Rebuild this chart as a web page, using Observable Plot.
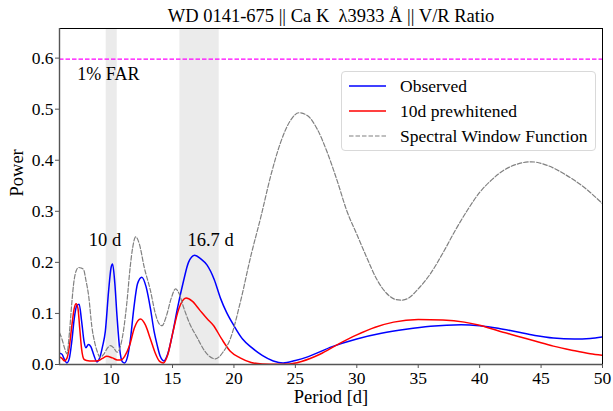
<!DOCTYPE html>
<html><head><meta charset="utf-8">
<script src="https://cdn.jsdelivr.net/npm/d3@7"></script>
<script src="https://cdn.jsdelivr.net/npm/@observablehq/plot@0.6"></script>
<style>
body{margin:0;background:#fff;}
#wrap{position:relative;width:613px;height:411px;font-family:"Liberation Serif","Times New Roman",serif;}
#legend{position:absolute;left:341px;top:71px;width:255px;height:80px;border:1px solid #d9d9d9;border-radius:4px;background:rgba(255,255,255,0.85);box-sizing:border-box;}
.row{position:absolute;left:6px;height:20px;display:flex;align-items:center;font-size:17.5px;color:#000;white-space:nowrap;}
.row svg{margin-right:14px;}
</style></head>
<body><div id="wrap"></div>
<script>
const titleText = "WD 0141-675 || Ca K  λ3933 Å || V/R Ratio";
const seriesNames = ["Observed", "10d prewhitened", "Spectral Window Function"];
const seriesColors = ["#0000ff", "#ff0000", "#808080"];

const obsPeriod = [5.8,6.0,6.2,6.4,6.6,6.8,7.0,7.2,7.4,7.6,7.8,7.95,8.15,8.35,8.6,8.85,9.1,9.3,9.53,9.8,10.0,10.12,10.3,10.48,10.7,10.9,11.1,11.3,11.55,11.85,12.15,12.5,12.85,13.2,13.5,13.75,14.0,14.3,14.6,15.0,15.4,15.9,16.3,16.8,17.3,17.8,18.4,18.9,19.4,20.0,20.7,21.4,22.3,23.2,24.0,25.0,26.0,28.0,30.0,32.0,34.0,36.0,38.5,40.0,41.5,43.0,44.5,46.0,47.7,49.0,50];
const obsPower  = [0.022,0.02,0.01,0.003,0.012,0.045,0.09,0.115,0.118,0.085,0.045,0.033,0.039,0.035,0.018,0.005,0.015,0.035,0.065,0.145,0.19,0.197,0.16,0.095,0.03,0.006,0.003,0.012,0.045,0.11,0.158,0.171,0.152,0.11,0.065,0.038,0.016,0.007,0.02,0.06,0.11,0.164,0.2,0.214,0.207,0.195,0.166,0.13,0.102,0.076,0.05,0.034,0.018,0.007,0.003,0.008,0.015,0.035,0.05,0.061,0.069,0.075,0.078,0.076,0.071,0.064,0.057,0.052,0.05,0.051,0.054];

const pwPeriod = [5.8,6.0,6.2,6.4,6.6,6.8,7.0,7.15,7.3,7.45,7.6,7.8,8.0,8.5,9.0,9.3,9.65,10.1,10.5,10.8,11.1,11.5,11.9,12.4,12.8,13.2,13.6,13.95,14.25,14.6,15.0,15.5,16.1,16.6,17.2,17.8,18.35,19.0,19.7,20.5,21.4,22.3,23.5,24.5,25.5,27.0,28.5,30.0,31.5,33.0,35.0,37.0,38.75,40.0,41.5,43.0,44.5,46.0,47.5,49.0,50];
const pwPower  = [0.015,0.012,0.007,0.012,0.035,0.075,0.11,0.119,0.11,0.07,0.03,0.01,0.008,0.007,0.008,0.012,0.016,0.013,0.009,0.009,0.016,0.037,0.072,0.089,0.077,0.05,0.022,0.006,0.003,0.018,0.06,0.108,0.13,0.124,0.107,0.09,0.076,0.05,0.026,0.013,0.004,0.001,0.0005,0.001,0.006,0.02,0.04,0.058,0.073,0.083,0.088,0.087,0.083,0.077,0.066,0.056,0.046,0.036,0.028,0.021,0.018];

const winPeriod = [5.8,6.0,6.2,6.4,6.6,6.8,6.95,7.15,7.35,7.55,7.76,7.95,8.17,8.44,8.65,8.85,9.12,9.4,9.7,9.95,10.2,10.48,10.75,11.0,11.3,11.55,11.75,12.0,12.3,12.7,13.2,13.6,13.9,14.15,14.5,14.9,15.25,15.55,15.9,16.4,17.0,17.6,18.0,18.5,19.1,19.7,20.5,21.35,22.2,23.0,23.8,24.6,25.3,26.0,26.8,27.6,28.4,29.2,30.0,30.8,31.6,32.4,33.2,33.6,34.2,35.0,36.0,37.0,38.0,39.0,40.0,41.0,42.0,43.0,44.2,45.5,46.9,48.5,50];
const winPower  = [0.062,0.05,0.033,0.021,0.06,0.12,0.158,0.183,0.19,0.189,0.186,0.165,0.135,0.073,0.045,0.027,0.014,0.02,0.032,0.037,0.033,0.024,0.035,0.065,0.125,0.19,0.228,0.25,0.236,0.19,0.145,0.1,0.08,0.076,0.095,0.13,0.148,0.138,0.112,0.08,0.053,0.027,0.016,0.011,0.024,0.05,0.12,0.21,0.29,0.37,0.435,0.478,0.493,0.487,0.46,0.415,0.36,0.3,0.255,0.21,0.168,0.14,0.127,0.126,0.13,0.148,0.178,0.218,0.262,0.302,0.337,0.362,0.381,0.392,0.397,0.39,0.373,0.347,0.315];

const bandStart = [9.6, 15.6];
const bandEnd   = [10.5, 18.8];
const farLevel = 0.598;
const farLabel = "1% FAR";
const farLabelX = 7.25;
const farLabelY = 0.569;
const peakLabels = ["10 d", "16.7 d"];
const peakLabelX = [9.5, 18.1];
const peakLabelY = [0.2445, 0.2445];

const xDomain = [5.8, 50];
const yDomain = [0, 0.658];
const xTicks = [10, 15, 20, 25, 30, 35, 40, 45, 50];
const yTicks = [0, 0.1, 0.2, 0.3, 0.4, 0.5, 0.6];
const xLabel = "Period [d]";
const yLabel = "Power";

const bands = bandStart.map((s, i) => ({x1: s, x2: bandEnd[i]}));
const peaks = peakLabels.map((t, i) => ({t, x: peakLabelX[i], y: peakLabelY[i]}));

const chart = Plot.plot({
  width: 613, height: 411,
  marginLeft: 59, marginRight: 11, marginTop: 28, marginBottom: 47,
  style: {fontFamily: '"Liberation Serif","Times New Roman",serif', background: "#fff", color: "#000"},
  x: {domain: xDomain},
  y: {domain: yDomain},
  marks: [
    Plot.rect(bands, {x1: "x1", x2: "x2", fill: "#ebebeb"}),
    Plot.ruleY([farLevel], {stroke: "#ff00ff", strokeWidth: 1.2, strokeDasharray: "4.5,2"}),
    Plot.line(obsPower, {x: obsPeriod, y: obsPower, stroke: seriesColors[0], strokeWidth: 1.5, curve: "monotone-x", clip: true}),
    Plot.line(pwPower, {x: pwPeriod, y: pwPower, stroke: seriesColors[1], strokeWidth: 1.5, curve: "monotone-x", clip: true}),
    Plot.line(winPower, {x: winPeriod, y: winPower, stroke: seriesColors[2], strokeWidth: 1.2, strokeDasharray: "4.5,2", curve: "monotone-x", clip: true}),
    Plot.text([farLabel], {x: farLabelX, y: farLabelY, text: d => d, textAnchor: "start", lineAnchor: "middle", fontSize: 18}),
    Plot.text(peaks, {x: "x", y: "y", text: "t", textAnchor: "middle", lineAnchor: "middle", fontSize: 18.5}),
    Plot.frame({stroke: "#000", strokeWidth: 1}),
    Plot.ruleY([yDomain[0]], {stroke: "#555", strokeWidth: 1.4}),
    Plot.ruleX([xDomain[0]], {stroke: "#555", strokeWidth: 1.4}),
    Plot.axisX({ticks: xTicks, tickSize: 4, tickPadding: 3, stroke: "#555", fontSize: 17.5, label: null, tickFormat: d3.format("d")}),
    Plot.axisY({ticks: yTicks, tickSize: 4, tickPadding: 2, stroke: "#555", fontSize: 17.5, label: null, tickFormat: d3.format(".1f")}),
    Plot.text([xLabel], {frameAnchor: "bottom", text: d => d, dy: 33, lineAnchor: "middle", fontSize: 18.5}),
    Plot.text([yLabel], {frameAnchor: "left", text: d => d, dx: -42.5, rotate: -90, lineAnchor: "middle", fontSize: 18.5}),
    Plot.text([titleText], {frameAnchor: "top", text: d => d, dy: -12, lineAnchor: "middle", fontSize: 18.5})
  ]
});

const wrap = document.getElementById("wrap");
wrap.appendChild(chart);

const legend = document.createElement("div");
legend.id = "legend";
seriesNames.forEach((name, i) => {
  const row = document.createElement("div");
  row.className = "row";
  row.style.top = (4 + i * 25) + "px";
  const dash = i === 2 ? 'stroke-dasharray="4.5,2"' : "";
  const sw = i === 2 ? 1.2 : 1.5;
  row.innerHTML = `<svg width="38" height="20"><line x1="1" x2="38" y1="10" y2="10" stroke="${seriesColors[i]}" stroke-width="${sw}" ${dash}/></svg><span>${name}</span>`;
  legend.appendChild(row);
});
wrap.appendChild(legend);
</script>
</body></html>
